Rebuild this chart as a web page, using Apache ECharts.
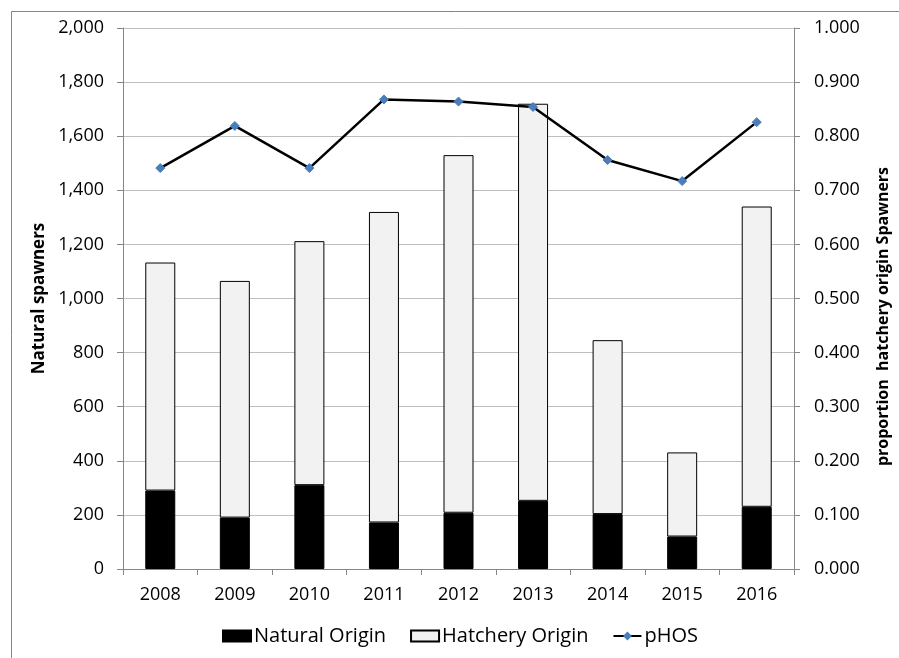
<!DOCTYPE html>
<html>
<head>
<meta charset="utf-8">
<script src="https://cdn.jsdelivr.net/npm/echarts@6/dist/echarts.min.js"></script>
<style>html,body{margin:0;padding:0;background:#fff}#c{width:899px;height:658px}</style>
</head>
<body>
<div id="c"></div>
<script>
var years = ['2008','2009','2010','2011','2012','2013','2014','2015','2016'];
var naturalOrigin = [290, 190, 310, 172, 208, 252, 203, 120, 230];
var hatcheryOrigin = [843, 875, 902, 1148, 1322, 1468, 643, 311, 1110];
var pHOS = [0.741, 0.819, 0.741, 0.868, 0.864, 0.854, 0.756, 0.717, 0.826];
var leftTicks = { min: 0, max: 2000, interval: 200 };
var rightTicks = { min: 0, max: 1, interval: 0.1 };

var FONT = '"Open Sans", "Liberation Sans", sans-serif';
var chart = echarts.init(document.getElementById('c'), null, { renderer: 'canvas' });
chart.setOption({
  animation: false,
  backgroundColor: '#fff',
  textStyle: { fontFamily: FONT },
  graphic: [{
    type: 'rect', left: 9, top: 9, silent: true,
    shape: { x: 0, y: 0, width: 1000, height: 800 },
    style: { fill: 'none', stroke: '#868686', lineWidth: 1 }
  }],
  grid: { left: 123, right: 103, top: 28, bottom: 89, containLabel: false },
  legend: {
    top: 626, left: 222, padding: 0, itemGap: 24, itemWidth: 28, itemHeight: 11,
    textStyle: { fontFamily: FONT, fontSize: 20, color: '#000', padding: [0, 0, 0, -2] },
    data: [
      { name: 'Natural Origin', icon: 'rect' },
      { name: 'Hatchery Origin', icon: 'rect' },
      { name: 'pHOS' }
    ]
  },
  xAxis: {
    type: 'category', data: years,
    axisLine: { lineStyle: { color: '#868686' } },
    axisTick: { show: true, alignWithLabel: false, length: 6, lineStyle: { color: '#868686' } },
    axisLabel: { color: '#000', fontSize: 18, fontFamily: FONT, margin: 17 }
  },
  yAxis: [{
    type: 'value', min: leftTicks.min, max: leftTicks.max, interval: leftTicks.interval,
    name: 'Natural spawners', nameLocation: 'middle', nameRotate: 90, nameGap: 75,
    nameTextStyle: { color: '#000', fontSize: 17, fontWeight: 'bold', fontFamily: FONT },
    axisLine: { show: true, lineStyle: { color: '#868686' } },
    axisTick: { show: true, length: 6, lineStyle: { color: '#868686' } },
    splitLine: { lineStyle: { color: '#bfbfbf', width: 1 } },
    axisLabel: {
      color: '#000', fontSize: 18, fontFamily: FONT, margin: 19,
      formatter: function (v) { return v.toLocaleString('en-US'); }
    }
  }, {
    type: 'value', position: 'right', min: rightTicks.min, max: rightTicks.max, interval: rightTicks.interval,
    name: 'proportion  hatchery origin Spawners', nameLocation: 'middle', nameRotate: 90, nameGap: 81,
    nameTextStyle: { color: '#000', fontSize: 16, fontWeight: 'bold', fontFamily: FONT, padding: [0, 36, 0, 0] },
    axisLine: { show: true, lineStyle: { color: '#868686' } },
    axisTick: { show: true, length: 6, lineStyle: { color: '#868686' } },
    splitLine: { show: false },
    axisLabel: {
      color: '#000', fontSize: 18, fontFamily: FONT, margin: 20,
      formatter: function (v) { return v.toFixed(3); }
    }
  }],
  series: [{
    name: 'Natural Origin', type: 'bar', stack: 'total', data: naturalOrigin, barWidth: 30,
    itemStyle: { color: '#000', borderColor: '#000', borderWidth: 1 }
  }, {
    name: 'Hatchery Origin', type: 'bar', stack: 'total', data: hatcheryOrigin, barWidth: 30,
    itemStyle: { color: '#f2f2f2', borderColor: '#000', borderWidth: 1 }
  }, {
    name: 'pHOS', type: 'line', yAxisIndex: 1, data: pHOS,
    symbol: 'diamond', symbolSize: 9,
    lineStyle: { color: '#000', width: 2.5 },
    itemStyle: { color: '#4a7ebb', borderColor: '#4a7ebb' }
  }]
});
</script>
</body>
</html>
